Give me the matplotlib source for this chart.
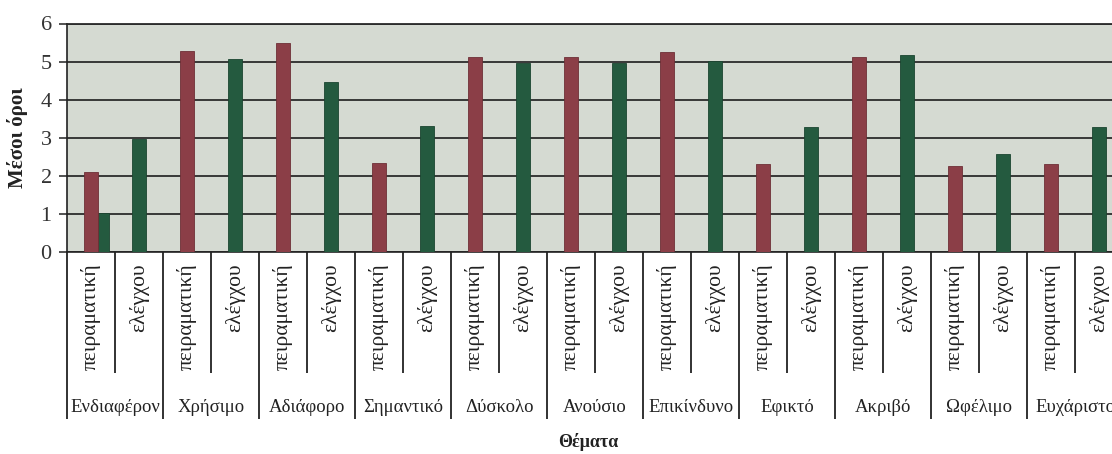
import matplotlib.pyplot as plt
import matplotlib.transforms as mtransforms
import numpy as np

plt.rcParams['font.family'] = ['Liberation Serif', 'DejaVu Serif']

# data
topics = ['Ενδιαφέρον', 'Χρήσιμο', 'Αδιάφορο', 'Σημαντικό', 'Δύσκολο', 'Ανούσιο',
          'Επικίνδυνο', 'Εφικτό', 'Ακριβό', 'Ωφέλιμο', 'Ευχάριστο']
groups = ['πειραματική', 'ελέγχου']
experimental = [2.11, 5.28, 5.49, 2.33, 5.13, 5.13, 5.26, 2.31, 5.11, 2.27, 2.31]
control = [2.98, 5.06, 4.47, 3.31, 4.97, 4.97, 5.02, 3.29, 5.16, 2.57, 3.28]
# stray control-coloured bar sitting next to the first experimental bar
control_extra = [1.02] + [np.nan] * 10

red = '#8b3e47'
green = '#245a3f'

fig = plt.figure(figsize=(11.12, 4.54), dpi=100)
W, H = 1112, 454
left, right, top, bottom = 67, 1123, 23.5, 252
ax = fig.add_axes([left / W, 1 - bottom / H, (right - left) / W, (bottom - top) / H])
ax.set_facecolor('#d5dad2')

n = len(topics)
x_exp = np.arange(n) * 2
x_ctl = x_exp + 1
bw = 0.29

ax.bar(x_exp, experimental, width=bw, color=red, edgecolor='#6e2f36', linewidth=0.6, zorder=3)
ax.bar(x_ctl, control, width=bw, color=green, edgecolor='#1b4530', linewidth=0.6, zorder=3)
ax.bar(x_exp + 0.26, control_extra, width=0.22, color=green, edgecolor='#1b4530', linewidth=0.6, zorder=2.9)

ax.set_xlim(-0.5, 2 * n - 0.5)
ax.set_ylim(0, 6)
ax.set_yticks(range(7))
ax.yaxis.grid(True, color='#2b2b2b', linewidth=1.3, zorder=1)
ax.set_axisbelow(True)
ax.spines['right'].set_visible(False)
ax.spines['top'].set_color('#2b2b2b')
ax.spines['top'].set_linewidth(1.3)
ax.spines['left'].set_color('#222222')
ax.spines['bottom'].set_color('#222222')
ax.spines['left'].set_linewidth(1.2)
ax.spines['bottom'].set_linewidth(1.2)
ax.tick_params(axis='y', direction='out', length=6, width=1.1, labelsize=16, pad=5, colors='#222222')
ax.tick_params(axis='y', labelcolor='#333333')

# long tick marks as category separators
ax.set_xticks(np.arange(-0.5, 2 * n, 2))
ax.set_xticks(np.arange(0.5, 2 * n, 2), minor=True)
ax.tick_params(axis='x', which='major', direction='out', length=120, width=1.3, color='#222222', labelbottom=False)
ax.tick_params(axis='x', which='minor', direction='out', length=87, width=1.3, color='#222222', labelbottom=False)

trans = ax.get_xaxis_transform()
off = mtransforms.offset_copy(trans, fig=fig, x=0, y=-11, units='dots')
for i in range(n):
    for j, g in enumerate(groups):
        ax.text(2 * i + j, 0, g, transform=off, rotation=90, ha='center', va='top',
                fontsize=15.5, color='#222222')
    ax.text(2 * i + 0.5, (bottom - 407) / (bottom - top), topics[i], transform=trans,
            ha='center', va='center', fontsize=13.5, color='#222222')

ax.set_ylabel('Μέσοι όροι', fontsize=15, fontweight='bold', labelpad=9, color='#222222')
fig.text(588 / W, 1 - 442 / H, 'Θέματα', ha='center', va='center', fontsize=13,
         fontweight='bold', color='#222222')

fig.savefig('out.png', dpi=100)
